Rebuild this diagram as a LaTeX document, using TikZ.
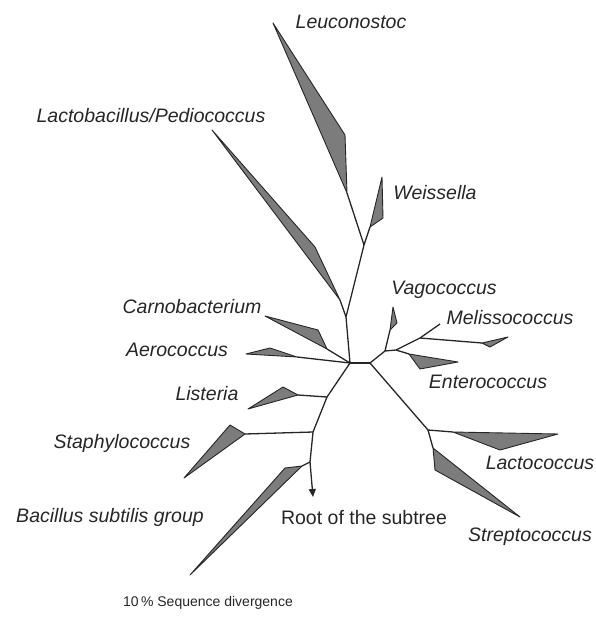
\documentclass[tikz,border=0pt]{standalone}
\usepackage{fontspec}
\setmainfont{Liberation Sans}
\usetikzlibrary{arrows.meta}
\definecolor{ink}{HTML}{262626}
\definecolor{wedgegray}{HTML}{7C7C7C}
\begin{document}
\begin{tikzpicture}[x=1pt,y=-1pt,
  branch/.style={draw=ink,line width=1.3pt,line join=round},
  wedge/.style={draw=ink,fill=wedgegray,line width=0.9pt,line join=round},
  taxon/.style={font=\fontsize{19.5}{22}\selectfont\itshape,text=ink,inner sep=0pt},
  plain/.style={font=\fontsize{19.5}{22}\selectfont,text=ink,inner sep=0pt}]
\useasboundingbox (0,0) rectangle (596,621);
% internal nodes
\coordinate (L) at (350,363);
\coordinate (R) at (370,363);
\coordinate (N2) at (346,317);
\coordinate (N1) at (364,245);
\coordinate (Lis) at (327,397);
\coordinate (Sta) at (313,432);
\coordinate (Bac) at (310,462);
\coordinate (Rt) at (313,497);
\coordinate (A) at (385,351);
\coordinate (C) at (396,350);
\coordinate (D) at (420,338);
\coordinate (E) at (428,430);
% wedge base points
\coordinate (leuB) at (347,193);
\coordinate (weiB) at (370,227);
\coordinate (lacB) at (340,300);
\coordinate (carB) at (327,349);
\coordinate (aerB) at (297,357);
\coordinate (lisB) at (298,395);
\coordinate (staB) at (245,434);
\coordinate (bacB) at (302,466);
\coordinate (vagB) at (390,330);
\coordinate (melB) at (482,343);
\coordinate (melT) at (440,324);
\coordinate (entB) at (409,354);
\coordinate (lcoB) at (453,432);
\coordinate (strB) at (433,448);
% branches
\draw[branch] (L) -- (R);
\draw[branch] (L) -- (N2) -- (N1);
\draw[branch] (N1) -- (leuB);
\draw[branch] (N1) -- (weiB);
\draw[branch] (N2) -- (lacB);
\draw[branch] (L) -- (carB);
\draw[branch] (L) -- (aerB);
\draw[branch] (L) -- (Lis) -- (Sta) -- (Bac);
\draw[branch] (Lis) -- (lisB);
\draw[branch] (Sta) -- (staB);
\draw[branch] (Bac) -- (bacB);
\draw[branch,-{Triangle[width=7pt,length=8pt]}] (Bac) -- (Rt);
\draw[branch] (R) -- (A) -- (C) -- (D) -- (melB);
\draw[branch] (D) -- (melT);
\draw[branch] (A) -- (vagB);
\draw[branch] (C) -- (entB);
\draw[branch] (R) -- (E) -- (lcoB);
\draw[branch] (E) -- (strB);
% wedges
\draw[wedge] (leuB) -- (345,135) -- (273,23) -- cycle;
\draw[wedge] (weiB) -- (383,218) -- (382,177) -- cycle;
\draw[wedge] (lacB) -- (315,247) -- (212,130) -- cycle;
\draw[wedge] (carB) -- (318,330) -- (265,316) -- cycle;
\draw[wedge] (aerB) -- (270,348) -- (246,354) -- cycle;
\draw[wedge] (lisB) -- (283,387) -- (248,409) -- cycle;
\draw[wedge] (staB) -- (230,425) -- (184,478) -- cycle;
\draw[wedge] (bacB) -- (285,468) -- (190,575) -- cycle;
\draw[wedge] (vagB) -- (393,307) -- (397,323) -- cycle;
\draw[wedge] (melB) -- (508,337) -- (490,347) -- cycle;
\draw[wedge] (entB) -- (458,362) -- (420,369) -- cycle;
\draw[wedge] (lcoB) -- (558,434) -- (500,450) -- cycle;
\draw[wedge] (strB) -- (520,517) -- (435,470) -- cycle;
% labels
\node[taxon] (tLeu) at (351,22) {Leuconostoc};
\node[taxon] (tLac) at (151,116) {Lactobacillus/Pediococcus};
\node[taxon] (tWei) at (435,193) {Weissella};
\node[taxon] (tVag) at (444,290) {Vagococcus};
\node[taxon] (tMel) at (510,318) {Melissococcus};
\node[taxon] (tEnt) at (488,382) {Enterococcus};
\node[taxon] (tCar) at (192,307) {Carnobacterium};
\node[taxon] (tAer) at (177,350) {Aerococcus};
\node[taxon] (tLis) at (207,394) {Listeria};
\node[taxon] (tSta) at (122,443) {Staphylococcus};
\node[taxon] (tBac) at (110,517) {Bacillus subtilis group};
\node[plain] (tRoot) at (364,518) {Root of the subtree};
\node[taxon] (tLco) at (540,463) {Lactococcus};
\node[taxon] (tStr) at (530,537) {Streptococcus};
\node[text=ink,inner sep=0pt,font=\fontsize{14}{16}\selectfont] (scale) at (208,603) {10\,\% Sequence divergence};
\end{tikzpicture}
\end{document}
